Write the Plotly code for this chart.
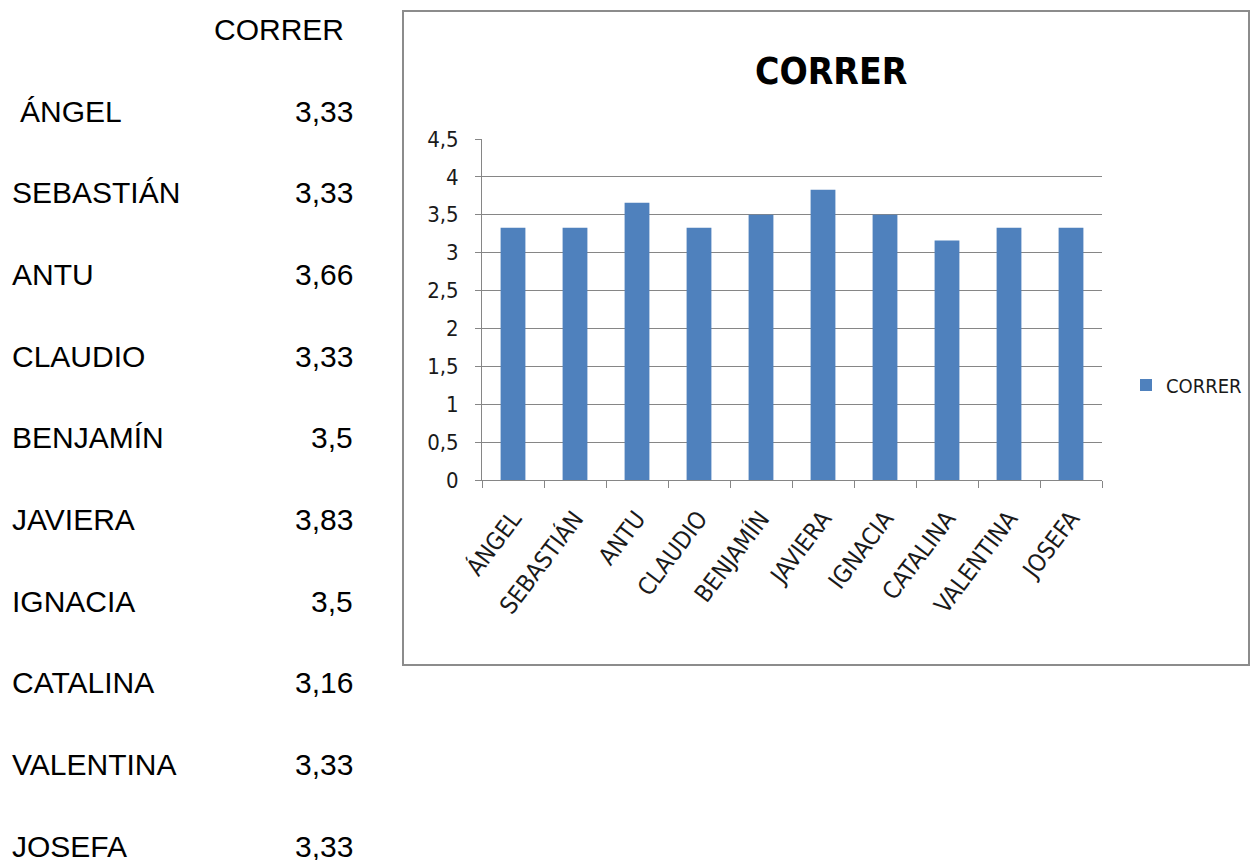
import plotly.graph_objects as go

# ---- data ----
series_name = "CORRER"
names = ["ÁNGEL", "SEBASTIÁN", "ANTU", "CLAUDIO", "BENJAMÍN",
         "JAVIERA", "IGNACIA", "CATALINA", "VALENTINA", "JOSEFA"]
values = [3.33, 3.33, 3.66, 3.33, 3.5, 3.83, 3.5, 3.16, 3.33, 3.33]
value_labels = ["3,33", "3,33", "3,66", "3,33", "3,5", "3,83", "3,5", "3,16", "3,33", "3,33"]

W, H = 1250, 860
BAR_COLOR = "#4F81BD"
GRID = "#868686"
NARROW = "Liberation Sans Narrow, Arial Narrow, DejaVu Sans Condensed, sans-serif"
ARIAL = "Liberation Sans, Arial, sans-serif"

def px(x):
    return x / W

def py(y):
    return 1 - y / H

fig = go.Figure()
fig.add_trace(go.Bar(
    x=names, y=values, name=series_name,
    marker=dict(color=BAR_COLOR, line=dict(width=0)),
    showlegend=True,
))

fig.update_layout(
    template="none",
    width=W, height=H,
    margin=dict(l=0, r=0, t=0, b=0, pad=0, autoexpand=False),
    paper_bgcolor="white", plot_bgcolor="white",
    separators=",.",
    bargap=0.6,
    showlegend=True,
    legend=dict(x=px(1126), y=py(385), xanchor="left", yanchor="middle",
                itemwidth=30,
                font=dict(family=NARROW, size=20, color="#1a1a1a"),
                bgcolor="rgba(0,0,0,0)"),
    xaxis=dict(
        domain=[px(482), px(1102)], type="category", automargin=False,
        tickson="boundaries", ticks="outside", ticklen=7, tickcolor=GRID,
        showline=True, linecolor=GRID, linewidth=1,
        ticklabelstandoff=14,
        tickangle=-53, tickfont=dict(family=NARROW, size=24, color="#1a1a1a"),
        showgrid=False,
    ),
    yaxis=dict(
        domain=[py(480), py(139)], range=[0, 4.5], dtick=0.5, automargin=False,
        showgrid=True, gridcolor=GRID, gridwidth=1,
        showline=True, linecolor=GRID, linewidth=1,
        ticks="outside", ticklen=6, tickcolor=GRID,
        ticklabelstandoff=12,
        zeroline=False,
        tickfont=dict(family=NARROW, size=22, color="#1a1a1a"),
    ),
)

# chart title
fig.add_annotation(text="<b>" + series_name + "</b>", x=px(831), y=py(72),
                   xref="paper", yref="paper", showarrow=False,
                   xanchor="center", yanchor="middle",
                   font=dict(family=NARROW, size=37, color="black"))

# chart border
fig.add_shape(type="rect", xref="paper", yref="paper",
              x0=px(403), x1=px(1249), y0=py(665), y1=py(11),
              line=dict(color="#8c8c8c", width=2), fillcolor="rgba(0,0,0,0)")

# table on the left
fig.add_annotation(text=series_name, x=px(346), y=py(29), xref="paper", yref="paper",
                   showarrow=False, xanchor="right", yanchor="middle",
                   font=dict(family=ARIAL, size=30, color="black"))
row0, step = 111, 81.7
for i, (n, v) in enumerate(zip(names, value_labels)):
    yy = py(row0 + i * step)
    fig.add_annotation(text=n, x=px(18 if i == 0 else 10), y=yy, xref="paper", yref="paper",
                       showarrow=False, xanchor="left", yanchor="middle",
                       font=dict(family=ARIAL, size=30, color="black"))
    fig.add_annotation(text=v, x=px(355), y=yy, xref="paper", yref="paper",
                       showarrow=False, xanchor="right", yanchor="middle",
                       font=dict(family=ARIAL, size=30, color="black"))

fig.write_html("out.html")
